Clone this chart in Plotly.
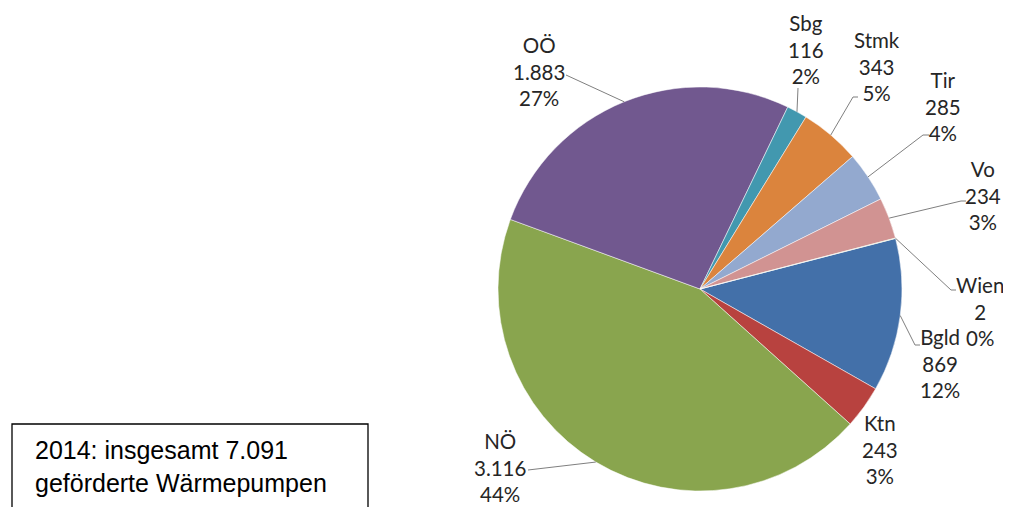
import math
import plotly.graph_objects as go

# ---- data ----
regions = ["Bgld", "Ktn", "NÖ", "OÖ", "Sbg", "Stmk", "Tir", "Vo", "Wien"]
values = [869, 243, 3116, 1883, 116, 343, 285, 234, 2]
value_labels = ["869", "243", "3.116", "1.883", "116", "343", "285", "234", "2"]
percent_labels = ["12%", "3%", "44%", "27%", "2%", "5%", "4%", "3%", "0%"]
box_text = "2014: insgesamt 7.091<br>geförderte Wärmepumpen"

# ---- style / layout ----
colors = ["#4370A9", "#B8423F", "#89A54E", "#71588F", "#4298AF",
          "#DB843D", "#93A9CF", "#D19392", "#B9CD96"]
OFF = 8                      # page body margin of the html page
W, H = 1011 - OFF, 507 - OFF
CX, CY, R = 700, 289, 202    # pie centre / radius in window pixels
ROTATION = 75.5

# label centre (px) and text-side leader points (px); None = no leader
label_pos = {
    "Bgld": (940, 363), "Ktn": (880, 449), "NÖ": (500, 467), "OÖ": (539, 71),
    "Sbg": (806, 50), "Stmk": (877, 66), "Tir": (943, 107), "Vo": (983, 196),
    "Wien": (980, 311),
}
leader_end = {
    "Bgld": [(915, 345), (920, 345)], "Ktn": None, "NÖ": [(528, 470)],
    "OÖ": [(566, 75)], "Sbg": [(798, 88)], "Stmk": [(853, 97), (858, 97)],
    "Tir": [(923, 135), (929, 135)], "Vo": [(961, 201), (966, 201)],
    "Wien": [(951, 290), (956, 290)],
}

def px(x):
    return (x - OFF) / W

def py(y):
    return 1 - (y - OFF) / H

fig = go.Figure(go.Pie(
    labels=regions, values=values, sort=False, direction="clockwise",
    rotation=ROTATION, textinfo="none", hoverinfo="label+value+percent",
    marker=dict(colors=colors, line=dict(color="white", width=0.5)),
    domain=dict(x=[px(CX - R), px(CX + R)], y=[py(CY + R), py(CY - R)]),
    showlegend=False,
))

total = sum(values)
annotations = []
shapes = []
cum = 0
for name, v, vl, pl in zip(regions, values, value_labels, percent_labels):
    mid = math.radians(ROTATION + (cum + v / 2) / total * 360)
    cum += v
    ex = CX + R * math.sin(mid)
    ey = CY - R * math.cos(mid)
    lx, ly = label_pos[name]
    annotations.append(dict(
        x=px(lx), y=py(ly), xref="paper", yref="paper", showarrow=False,
        text=f"{name}<br>{vl}<br>{pl}", align="center",
        xanchor="center", yanchor="middle",
        font=dict(family="Lato", size=20.5, color="#262626"),
    ))
    pts = leader_end[name]
    if pts:
        path = f"M{px(ex)},{py(ey)}" + "".join(f" L{px(a)},{py(b)}" for a, b in pts)
        shapes.append(dict(type="path", path=path, xref="paper", yref="paper",
                           line=dict(color="#7F7F7F", width=1)))

# text box
shapes.append(dict(type="rect", xref="paper", yref="paper",
                   x0=px(12), x1=px(368), y0=py(530), y1=py(424),
                   line=dict(color="black", width=1.3), fillcolor="rgba(0,0,0,0)"))
annotations.append(dict(
    x=px(33), y=py(466.5), xref="paper", yref="paper", showarrow=False,
    text=box_text, align="left", xanchor="left", yanchor="middle",
    font=dict(family="Liberation Sans, Arial", size=25, color="black"),
))

fig.update_layout(
    width=W, height=H, margin=dict(l=0, r=0, t=0, b=0),
    paper_bgcolor="white", plot_bgcolor="white",
    annotations=annotations, shapes=shapes,
)
fig.write_html("out.html")
